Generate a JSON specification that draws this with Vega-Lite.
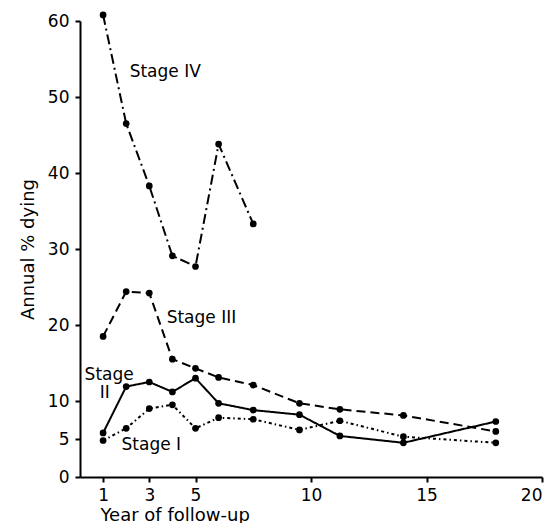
{
  "$schema": "https://vega.github.io/schema/vega-lite/v6.json",
  "width": 462,
  "height": 456,
  "autosize": {"type": "none"},
  "padding": {"left": 80, "top": 21, "right": 11, "bottom": 46},
  "background": "white",
  "config": {
    "font": "DejaVu Sans",
    "view": {"stroke": null},
    "axis": {
      "labelFont": "DejaVu Sans",
      "titleFont": "DejaVu Sans",
      "labelFontSize": 17,
      "titleFontSize": 18,
      "titleFontWeight": "normal",
      "labelColor": "black",
      "titleColor": "black",
      "domainColor": "black",
      "tickColor": "black",
      "domainWidth": 2,
      "tickWidth": 2,
      "tickSize": 5,
      "grid": false
    }
  },
  "datasets": {
    "series": [
      {"stage": "IV", "year": 1, "pct": 60.8},
      {"stage": "IV", "year": 2, "pct": 46.5},
      {"stage": "IV", "year": 3, "pct": 38.3},
      {"stage": "IV", "year": 4, "pct": 29.1},
      {"stage": "IV", "year": 5, "pct": 27.7},
      {"stage": "IV", "year": 6, "pct": 43.8},
      {"stage": "IV", "year": 7.5, "pct": 33.3},
      {"stage": "III", "year": 1, "pct": 18.5},
      {"stage": "III", "year": 2, "pct": 24.4},
      {"stage": "III", "year": 3, "pct": 24.2},
      {"stage": "III", "year": 4, "pct": 15.5},
      {"stage": "III", "year": 5, "pct": 14.3},
      {"stage": "III", "year": 6, "pct": 13.1},
      {"stage": "III", "year": 7.5, "pct": 12.1},
      {"stage": "III", "year": 9.5, "pct": 9.7},
      {"stage": "III", "year": 11.25, "pct": 8.9},
      {"stage": "III", "year": 14, "pct": 8.1},
      {"stage": "III", "year": 18, "pct": 6.0},
      {"stage": "II", "year": 1, "pct": 5.8},
      {"stage": "II", "year": 2, "pct": 11.9},
      {"stage": "II", "year": 3, "pct": 12.5},
      {"stage": "II", "year": 4, "pct": 11.2},
      {"stage": "II", "year": 5, "pct": 13.0},
      {"stage": "II", "year": 6, "pct": 9.7},
      {"stage": "II", "year": 7.5, "pct": 8.8},
      {"stage": "II", "year": 9.5, "pct": 8.2},
      {"stage": "II", "year": 11.25, "pct": 5.4},
      {"stage": "II", "year": 14, "pct": 4.5},
      {"stage": "II", "year": 18, "pct": 7.3},
      {"stage": "I", "year": 1, "pct": 4.8},
      {"stage": "I", "year": 2, "pct": 6.4},
      {"stage": "I", "year": 3, "pct": 9.0},
      {"stage": "I", "year": 4, "pct": 9.5},
      {"stage": "I", "year": 5, "pct": 6.4},
      {"stage": "I", "year": 6, "pct": 7.8},
      {"stage": "I", "year": 7.5, "pct": 7.6},
      {"stage": "I", "year": 9.5, "pct": 6.2},
      {"stage": "I", "year": 11.25, "pct": 7.4},
      {"stage": "I", "year": 14, "pct": 5.3},
      {"stage": "I", "year": 18, "pct": 4.5}
    ],
    "labels": [
      {"text": "Stage IV", "year": 2.15, "pct": 53.3},
      {"text": "Stage III", "year": 3.75, "pct": 20.9},
      {"text": "Stage", "year": 0.2, "pct": 13.4},
      {"text": "II", "year": 0.85, "pct": 11.0},
      {"text": "Stage I", "year": 1.8, "pct": 4.2}
    ]
  },
  "layer": [
    {
      "data": {"name": "series"},
      "mark": {"type": "line", "stroke": "black", "strokeWidth": 2},
      "encoding": {
        "x": {
          "field": "year", "type": "quantitative",
          "scale": {"domain": [0, 20], "nice": false, "zero": true},
          "axis": {
            "values": [1, 3, 5, 10, 15, 20],
            "title": "Year of follow-up",
            "labelPadding": 5,
            "titleX": 20,
            "titleY": 29,
            "titleAlign": "left",
            "titleBaseline": "top",
            "titleAnchor": null
          }
        },
        "y": {
          "field": "pct", "type": "quantitative",
          "scale": {"domain": [0, 60], "nice": false},
          "axis": {
            "values": [0, 5, 10, 20, 30, 40, 50, 60],
            "title": "Annual % dying",
            "labelPadding": 6,
            "titlePadding": 10
          }
        },
        "detail": {"field": "stage"},
        "strokeDash": {
          "field": "stage", "type": "nominal",
          "scale": {"domain": ["I", "II", "III", "IV"], "range": [[3, 3, 1.5, 3], [1, 0], [9, 5], [10, 4, 2, 4]]},
          "legend": null
        },
        "order": {"field": "year", "type": "quantitative"}
      }
    },
    {
      "data": {"name": "series"},
      "mark": {"type": "point", "filled": true, "color": "black", "size": 45, "opacity": 1},
      "encoding": {
        "x": {"field": "year", "type": "quantitative"},
        "y": {"field": "pct", "type": "quantitative"}
      }
    },
    {
      "data": {"name": "labels"},
      "mark": {"type": "text", "align": "left", "baseline": "middle", "fontSize": 17, "font": "DejaVu Sans", "color": "black"},
      "encoding": {
        "x": {"field": "year", "type": "quantitative"},
        "y": {"field": "pct", "type": "quantitative"},
        "text": {"field": "text"}
      }
    }
  ]
}
